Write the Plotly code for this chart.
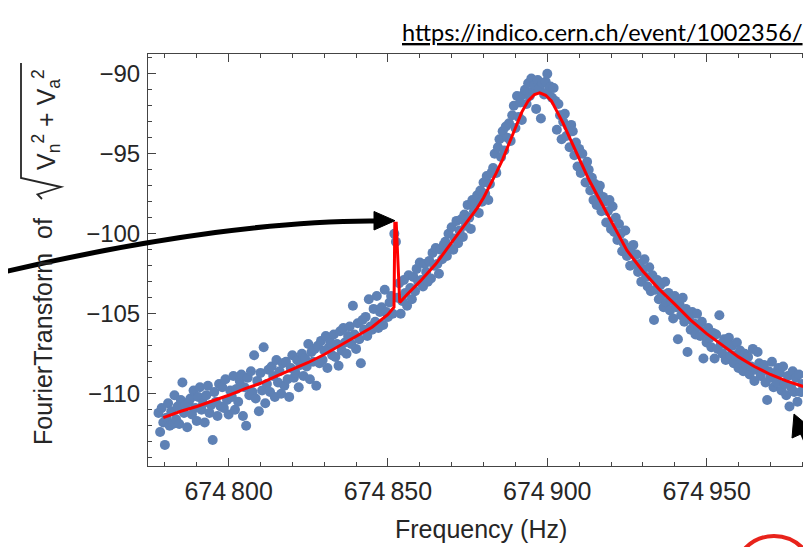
import plotly.graph_objects as go

# ---------------- data ----------------
freq_start = 674778.0   # Hz, first FFT bin shown
freq_step = 0.5         # Hz, bin spacing
amp_db = [
    -111.2, -112.4, -110.9, -111.8, -113.2, -111.5, -110.6, -112.0, -111.1, -111.9,
    -110.1, -111.6, -110.8, -111.9, -110.4, -109.3, -111.2, -110.7, -112.1, -110.5,
    -110.3, -111.3, -109.8, -110.9, -111.7, -110.2, -109.6, -111.0, -110.6, -111.8,
    -110.1, -109.5, -111.2, -110.7, -112.9, -109.9, -110.5, -111.4, -109.4, -110.8,
    -109.6, -110.9, -109.1, -110.4, -111.3, -109.8, -110.2, -108.9, -111.0, -109.7,
    -110.5, -109.2, -108.8, -111.4, -109.6, -112.0, -109.0, -110.1, -108.6, -109.9,
    -107.6, -110.3, -109.2, -111.1, -108.7, -109.8, -107.1, -110.6, -109.4, -108.5,
    -109.9, -108.3, -108.9, -110.2, -107.9, -109.3, -108.6, -110.0, -108.1, -109.5,
    -108.0, -109.1, -110.2, -108.4, -107.6, -109.0, -108.7, -107.9, -109.6, -108.2,
    -107.5, -108.9, -107.8, -108.3, -106.9, -109.1, -107.4, -108.0, -107.2, -109.5,
    -107.0, -108.1, -106.7, -107.9, -107.3, -106.4, -108.4, -107.1, -106.8, -107.6,
    -106.3, -107.7, -106.9, -108.25, -106.1, -107.3, -105.9, -106.8, -107.5, -106.4,
    -105.8, -106.9, -104.5, -106.3, -107.2, -105.6, -106.6, -108.1, -105.4, -106.0,
    -105.2, -106.4, -104.1, -105.8, -106.0, -104.7, -105.5, -103.9, -105.9, -104.9,
    -104.6, -105.7, -103.5, -104.9, -105.2, -104.3, -103.9, -105.0, -100.0, -100.5,
    -104.0, -103.1, -105.0, -104.2, -102.9, -103.7, -104.5, -102.6, -103.4, -104.1,
    -102.7, -103.6, -102.2, -103.0, -101.8, -102.9, -103.3, -101.9, -102.4, -103.0,
    -101.7, -102.8, -101.2, -102.0, -100.9, -101.9, -102.5, -101.0, -101.6, -100.7,
    -100.5, -101.4, -100.0, -100.9, -99.6, -101.0, -100.3, -99.2, -100.6, -99.8,
    -99.1, -100.2, -98.8, -99.5, -98.2, -99.0, -99.7, -97.9, -98.6, -98.1,
    -97.6, -98.7, -97.3, -98.0, -96.8, -97.5, -96.4, -97.9, -96.9, -96.2,
    -95.9, -95.0, -96.2, -94.6, -94.1, -95.2, -93.6, -94.8, -93.3, -94.0,
    -93.1, -94.2, -92.6, -92.0, -93.4, -91.4, -92.7, -91.8, -92.9, -91.3,
    -91.0, -91.9, -90.6, -91.4, -90.3, -91.1, -90.7, -92.2, -90.4, -90.9,
    -92.8, -90.6, -91.3, -90.5, -90.0, -91.0, -90.8, -91.5, -90.9, -91.7,
    -93.5, -91.9, -92.6, -94.1, -93.0, -92.5, -93.9, -93.3, -94.6, -93.2,
    -93.6, -95.1, -94.3, -95.8, -94.7, -96.2, -95.0, -95.9, -96.8, -95.5,
    -96.0, -97.3, -96.5, -97.9, -96.9, -98.2, -97.4, -97.0, -98.6, -97.7,
    -98.0, -99.3, -98.6, -97.9, -99.7, -98.3, -99.9, -99.0, -100.4, -99.4,
    -100.0, -101.1, -100.6, -99.8, -101.4, -100.9, -102.0, -101.2, -100.7, -101.9,
    -101.3, -102.4, -101.9, -103.0, -102.2, -101.6, -102.7, -103.3, -102.1, -103.6,
    -102.6, -105.4, -103.5, -102.9, -104.1, -103.2, -103.8, -104.6, -103.0, -104.3,
    -103.7, -104.8, -104.2, -105.3, -103.9, -104.6, -106.6, -104.4, -105.1, -104.0,
    -105.5, -104.7, -107.4, -105.2, -106.0, -104.9, -105.6, -106.3, -105.0, -105.8,
    -106.4, -105.5, -107.8, -106.1, -106.8, -105.9, -106.5, -107.1, -106.2, -107.8,
    -106.3, -107.2, -105.1, -106.9, -107.5, -106.6, -107.9, -107.0, -106.5, -107.6,
    -107.0, -108.1, -107.6, -106.8, -108.4, -107.3, -107.9, -108.6, -107.5, -108.2,
    -107.7, -108.8, -108.3, -107.2, -109.2, -108.5, -107.4, -108.1, -108.9, -108.4,
    -108.2, -109.3, -110.4, -108.6, -109.0, -108.0, -109.6, -108.7, -109.3, -108.4,
    -108.7, -109.8, -108.3, -109.4, -110.1, -108.9, -110.8, -109.6, -108.6, -109.9,
    -109.0, -110.5, -108.8, -109.9, -109.4,
]

fit_freq = [674779.5, 674785, 674790, 674795, 674800, 674805, 674810, 674815,
            674820, 674825, 674830, 674835, 674840, 674845, 674850, 674851.9,
            674852.15, 674852.6, 674853.7, 674856, 674860, 674865, 674870,
            674875, 674878, 674880, 674882, 674884, 674886, 674888, 674890,
            674892, 674894, 674896, 674897.6, 674899.5, 674901.3, 674903,
            674905, 674907, 674909, 674911, 674913, 674915, 674918, 674921,
            674925, 674930, 674935, 674940, 674945, 674950, 674955, 674960,
            674965, 674970, 674975, 674980.3]
fit_db = [-111.5, -111.1, -110.8, -110.45, -110.1, -109.7, -109.35, -108.9,
          -108.5, -108.05, -107.55, -107.0, -106.45, -105.85, -105.05, -104.6,
          -99.35, -99.35, -104.3, -103.8, -103.0, -101.9, -100.55,
          -99.2, -98.4, -97.75, -97.0, -96.2, -95.35, -94.4, -93.35,
          -92.4, -91.7, -91.3, -91.2, -91.35, -91.7, -92.3,
          -93.1, -94.0, -94.9, -95.8, -96.6, -97.35, -98.45, -99.5,
          -101.05, -102.35, -103.45, -104.4, -105.4, -106.25, -107.0, -107.7,
          -108.3, -108.8, -109.2, -109.55]

x_tick_vals = [674800, 674850, 674900, 674950]
x_tick_text = ["674\u2009800", "674\u2009850", "674\u2009900", "674\u2009950"]
y_tick_vals = [-110, -105, -100, -95, -90]

freq = [freq_start + i * freq_step for i in range(len(amp_db))]

# ---------------- figure geometry ----------------
W, H = 811, 547
ML, MR, MT, MB = 140, 5, 46, 89
PW, PH = W - ML - MR, H - MT - MB


def P(xp, yp):
    """pixel position -> paper coordinates"""
    return (xp - ML) / PW, (H - MB - yp) / PH


def path(cmds):
    out = []
    for c, pts in cmds:
        s = c
        for (a, b) in pts:
            u, v = P(a, b)
            s += f" {u:.5f},{v:.5f}"
        out.append(s)
    return " ".join(out)


AX = "#444444"
TXT = "#262626"
FONT = "Liberation Sans, Arial, sans-serif"

fig = go.Figure()
fig.add_trace(go.Scatter(
    x=freq, y=amp_db, mode="markers",
    marker=dict(color="#5E81B5", size=10, line=dict(width=0)),
    hoverinfo="skip"))
fig.add_trace(go.Scatter(
    x=fit_freq, y=fit_db, mode="lines",
    line=dict(color="#FF0000", width=3), hoverinfo="skip"))

shapes = [
    # curved black arrow pointing at the spike
    dict(type="path", xref="paper", yref="paper", layer="above",
         path=path([("M", [(-2, 263.5)]),
                    ("C", [(150, 228), (280, 212), (370, 213)])]),
         line=dict(color="black", width=5)),
    dict(type="path", xref="paper", yref="paper", layer="above",
         path=path([("M", [(387, 212.7)]), ("L", [(366, 203.5)]),
                    ("L", [(366, 222)]), ("Z", [])]),
         fillcolor="black", line=dict(color="black", width=1)),
    # straight arrow at the bottom right
    dict(type="path", xref="paper", yref="paper", layer="above",
         path=path([("M", [(793, 422)]), ("L", [(811, 462)])]),
         line=dict(color="black", width=5)),
    dict(type="path", xref="paper", yref="paper", layer="above",
         path=path([("M", [(786, 406)]), ("L", [(784, 430)]),
                    ("L", [(804, 421)]), ("Z", [])]),
         fillcolor="black", line=dict(color="black", width=1)),
    # radical sign of the y-axis title
    dict(type="path", xref="paper", yref="paper", layer="above",
         path=path([("M", [(34, 191)]), ("L", [(29.5, 186.5)]),
                    ("L", [(53, 179)]), ("L", [(13, 170)]),
                    ("L", [(13, 55)])]),
         line=dict(color=TXT, width=1.8)),
]
cx0, cy0 = P(726, 528)
cx1, cy1 = P(806, 608)
shapes.append(dict(type="circle", xref="paper", yref="paper", layer="above",
                   x0=cx0, x1=cx1, y0=cy1, y1=cy0,
                   line=dict(color="#E8231B", width=4)))

ux, uy = P(797, 24)
tx, ty = P(35, 324)
rx, ry = P(38, 112)
xx, xy = P(473, 521)
annotations = [
    dict(text="<u>https://indico.cern.ch/event/1002356/</u>", xref="paper",
         yref="paper", x=ux, y=uy, xanchor="right", yanchor="middle",
         showarrow=False, font=dict(family="Lato, sans-serif", size=23.5,
                                    color="black")),
    dict(text="FourierTransform  of", xref="paper", yref="paper", x=tx, y=ty,
         textangle=-90, xanchor="center", yanchor="middle", showarrow=False,
         font=dict(family=FONT, size=25, color=TXT)),
    dict(text="V<sub>n</sub><sup>2</sup> + V<sub>a</sub><sup>2</sup>",
         xref="paper", yref="paper", x=rx, y=ry, textangle=-90,
         xanchor="center", yanchor="middle", showarrow=False,
         font=dict(family=FONT, size=25, color=TXT)),
    dict(text="Frequency (Hz)", xref="paper", yref="paper", x=xx, y=xy,
         xanchor="center", yanchor="middle", showarrow=False,
         font=dict(family=FONT, size=25, color=TXT)),
]

fig.update_layout(
    width=W, height=H, margin=dict(l=ML, r=MR, t=MT, b=MB),
    paper_bgcolor="white", plot_bgcolor="white", showlegend=False,
    shapes=shapes, annotations=annotations,
    xaxis=dict(range=[674774.7, 674983.7], showgrid=False, zeroline=False,
               showline=True, linecolor=AX, linewidth=1, mirror="allticks",
               ticks="inside", ticklen=8, tickwidth=1, tickcolor=AX,
               tickvals=x_tick_vals, ticktext=x_tick_text,
               tickfont=dict(family=FONT, size=25, color=TXT),
               ticklabelstandoff=3,
               minor=dict(ticks="inside", ticklen=4, tickcolor=AX,
                          tickmode="linear", tick0=674800, dtick=10,
                          showgrid=False)),
    yaxis=dict(range=[-114.52, -88.77], showgrid=False, zeroline=False,
               showline=True, linecolor=AX, linewidth=1, mirror="allticks",
               ticks="inside", ticklen=8, tickwidth=1, tickcolor=AX,
               tickvals=y_tick_vals,
               tickfont=dict(family=FONT, size=24, color=TXT),
               ticklabelstandoff=2,
               minor=dict(ticks="inside", ticklen=4, tickcolor=AX,
                          tickmode="linear", tick0=-110, dtick=1,
                          showgrid=False)),
)

fig.write_html("out.html")
